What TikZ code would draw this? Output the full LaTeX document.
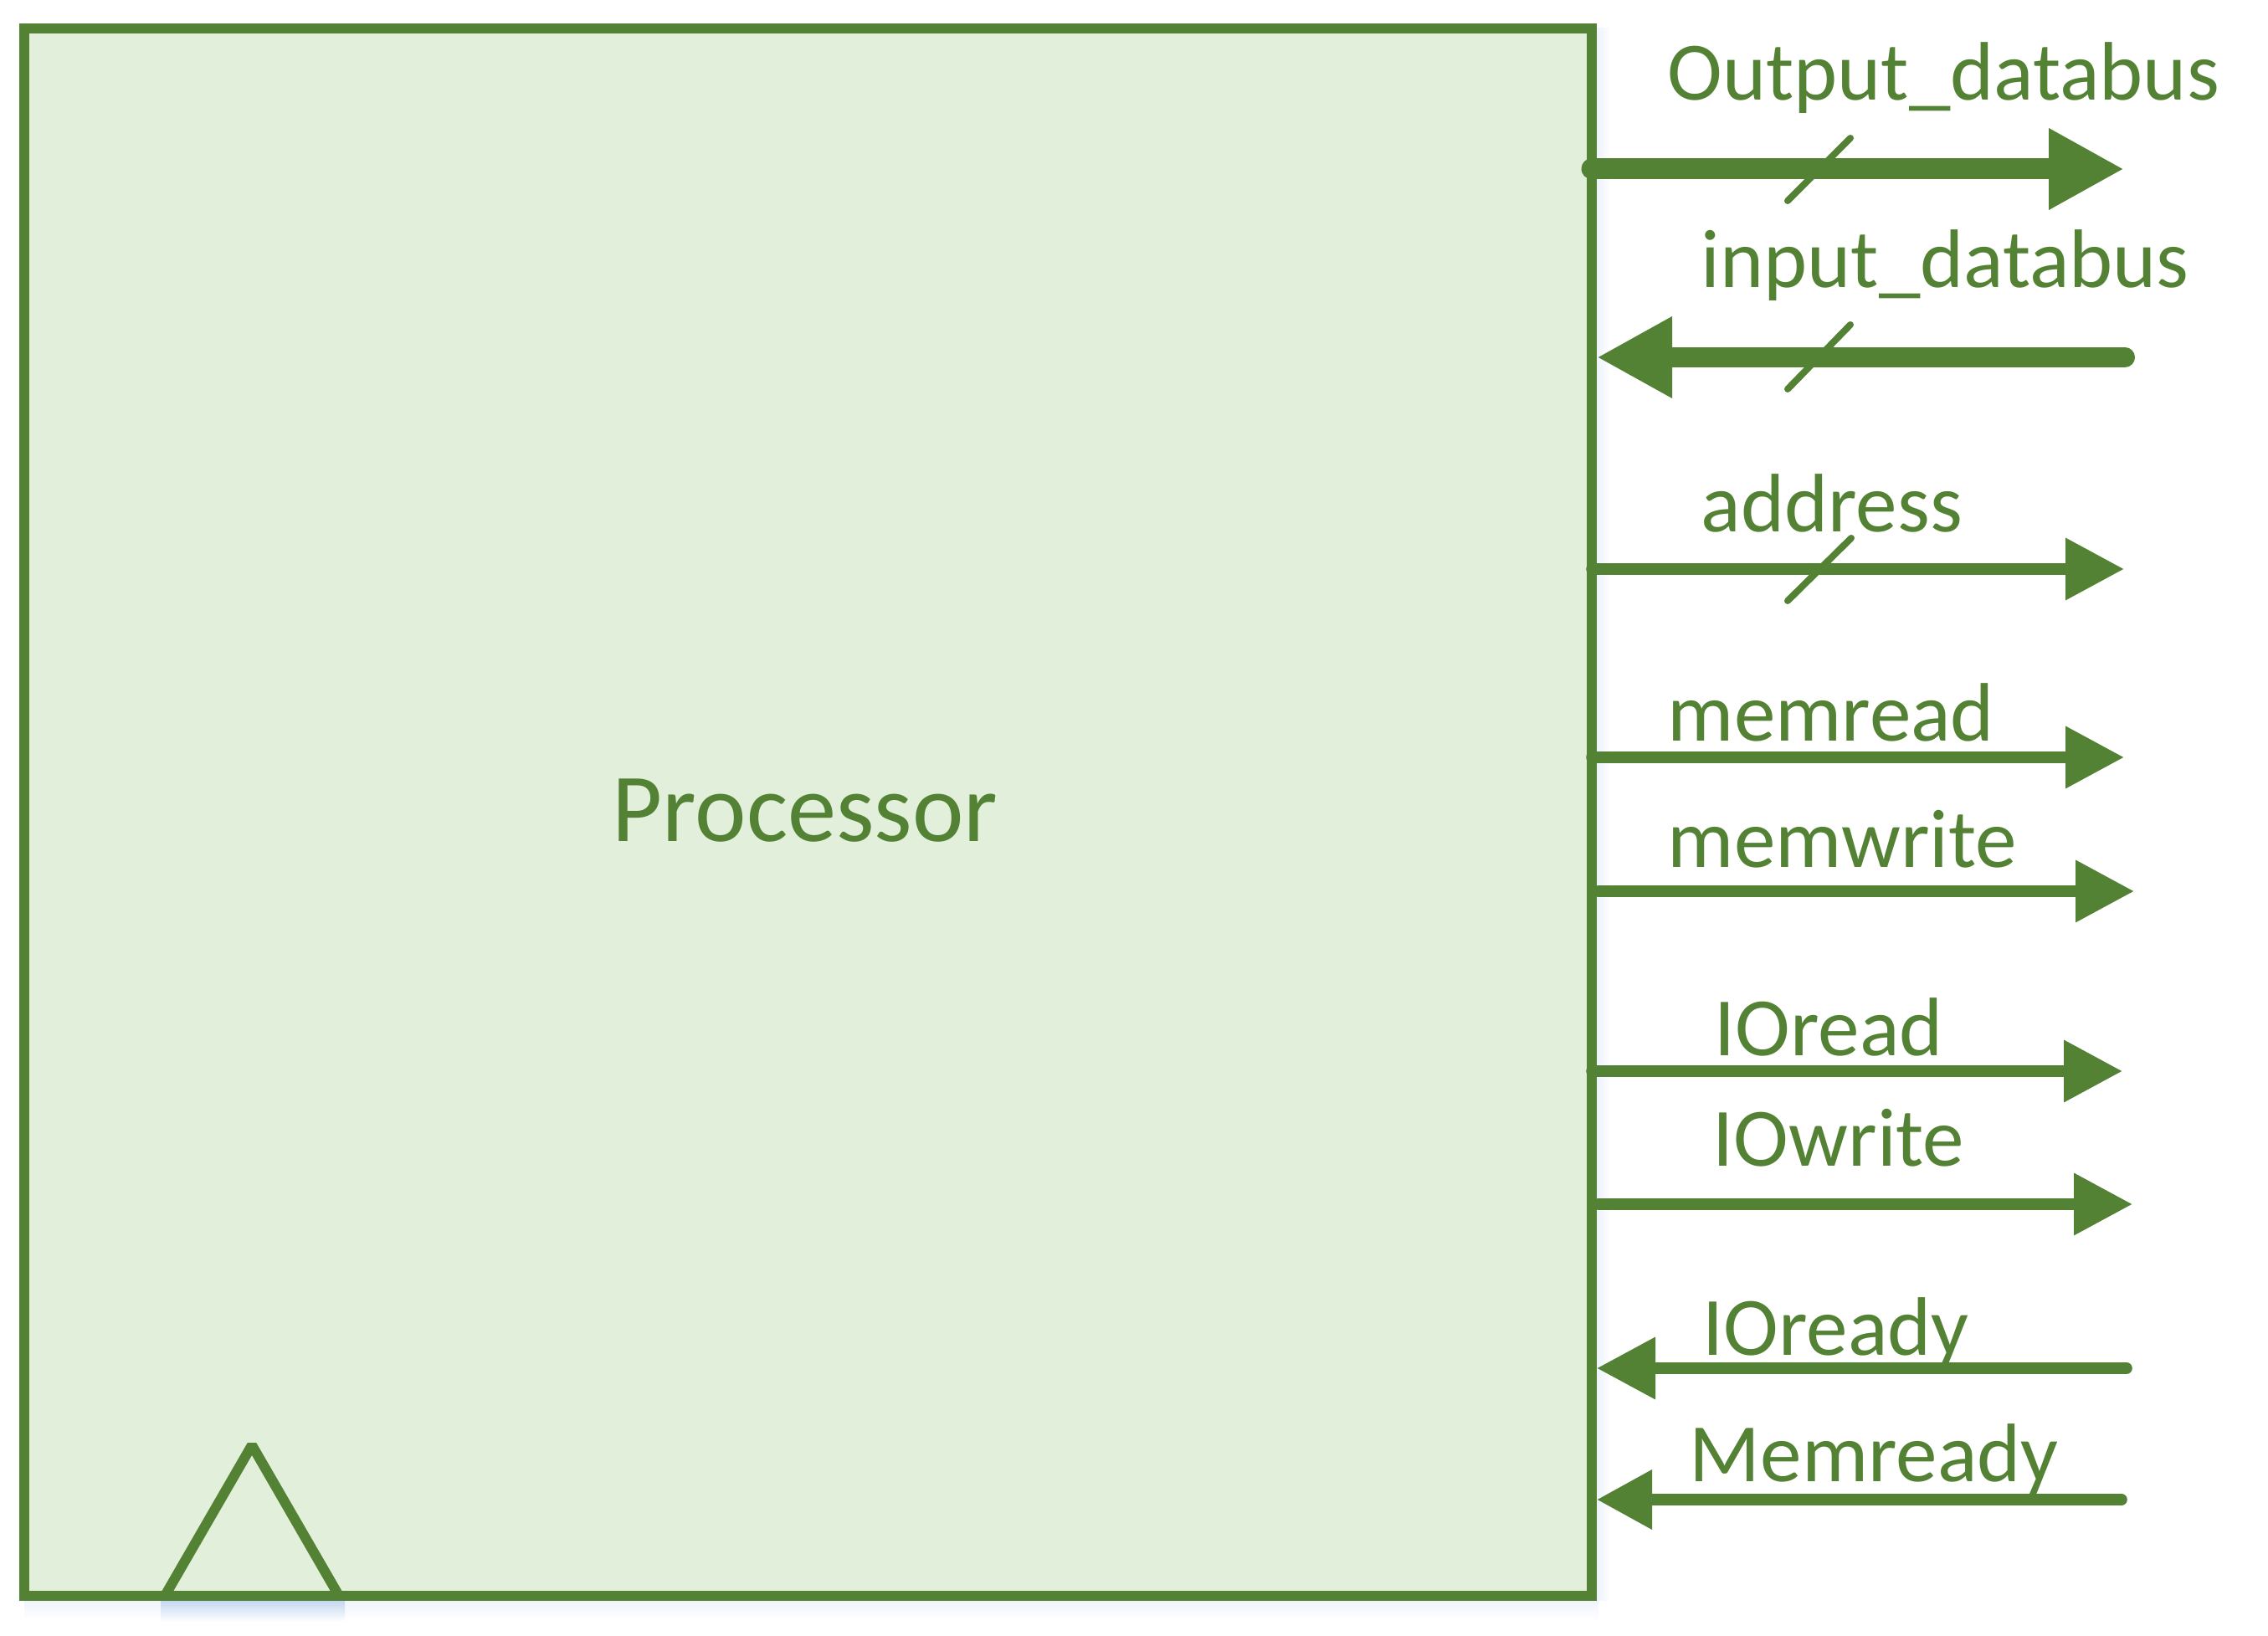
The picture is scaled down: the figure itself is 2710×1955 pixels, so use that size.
\documentclass[tikz,border=0pt]{standalone}
\usepackage{fontspec}
\setmainfont{Carlito}
\usetikzlibrary{arrows.meta}
\definecolor{grn}{RGB}{84,130,53}
\definecolor{lgrn}{RGB}{226,239,218}
\definecolor{glow}{RGB}{196,214,240}
\definecolor{glowfaint}{RGB}{238,243,252}
\begin{document}
\begin{tikzpicture}[x=0.25pt,y=-0.25pt,
  lbl/.style={anchor=base west, inner sep=0pt, text=grn, font=\fontsize{24.8pt}{29pt}\selectfont},
  bus/.style={draw=grn, line width=6.25pt, line cap=round, -{Triangle[length=22.5pt,width=22.75pt]}},
  sig/.style={draw=grn, line width=3.4pt, line cap=round, -{Triangle[length=17.5pt,width=17.75pt]}},
  slashmark/.style={draw=grn, line width=2pt, line cap=round}]
\useasboundingbox (0,0) rectangle (2710,1955);
% soft shadows
\shade[top color=glowfaint, bottom color=white] (29,1912) rectangle (1910,1935);
\shade[left color=glowfaint, right color=white] (1908,34) rectangle (1925,1912);
\shade[top color=glow, bottom color=white] (192,1912) rectangle (412,1938);
% processor box
\node[draw=grn, fill=lgrn, line width=3pt, inner sep=0pt, outer sep=0pt, minimum width=1873*0.25pt, minimum height=1873*0.25pt, anchor=north west] (proc) at (29,34) {};
\node[anchor=base, inner sep=0pt, text=grn, font=\fontsize{29.1pt}{34pt}\selectfont] (proclbl) at (962,1006) {Processor};
% clock triangle
\coordinate (tl) at (197,1907);
\coordinate (tt) at (301,1727);
\coordinate (tr) at (405,1907);
\draw[grn, line width=3pt, line join=bevel] (tl) -- (tt) -- (tr);
% endpoints
\coordinate (o1) at (1902,202);  \coordinate (o2) at (2538,202);
\coordinate (i1) at (2539,427);  \coordinate (i2) at (1908,427);
\coordinate (a1) at (1902,680);  \coordinate (a2) at (2538,680);
\coordinate (mr1) at (1902,905); \coordinate (mr2) at (2538,905);
\coordinate (mw1) at (1910,1065); \coordinate (mw2) at (2550,1065);
\coordinate (ir1) at (1902,1280); \coordinate (ir2) at (2536,1280);
\coordinate (iw1) at (1910,1439); \coordinate (iw2) at (2548,1439);
\coordinate (iy1) at (2541,1635); \coordinate (iy2) at (1908,1635);
\coordinate (my1) at (2535,1792); \coordinate (my2) at (1908,1792);
% arrows
\draw[bus] (o1) -- (o2);
\draw[bus, line width=6pt] (i1) -- (i2);
\draw[sig] (a1) -- (a2);
\draw[sig] (mr1) -- (mr2);
\draw[sig] (mw1) -- (mw2);
\draw[sig] (ir1) -- (ir2);
\draw[sig] (iw1) -- (iw2);
\draw[sig] (iy1) -- (iy2);
\draw[sig, -{Triangle[length=16.5pt,width=17pt]}] (my1) -- (my2);
% bus slashes
\coordinate (s1a) at (2136,240); \coordinate (s1b) at (2211,165);
\coordinate (s2a) at (2136,465); \coordinate (s2b) at (2211,388);
\coordinate (s3a) at (2136,718); \coordinate (s3b) at (2212,643);
\draw[slashmark] (s1a) -- (s1b);
\draw[slashmark] (s2a) -- (s2b);
\draw[slashmark] (s3a) -- (s3b);
% labels
\node[lbl] (lo) at (1992,120) {Output\_databus};
\node[lbl] (li) at (2032,344) {input\_databus};
\node[lbl] (la) at (2032,636) {address};
\node[lbl] (lmr) at (1992,886) {memread};
\node[lbl] (lmw) at (1992,1037) {memwrite};
\node[lbl] (lir) at (2048,1262) {IOread};
\node[lbl] (liw) at (2046,1394) {IOwrite};
\node[lbl] (liy) at (2034,1619) {IOready};
\node[lbl] (lmy) at (2018,1770) {Memready};
\end{tikzpicture}
\end{document}
